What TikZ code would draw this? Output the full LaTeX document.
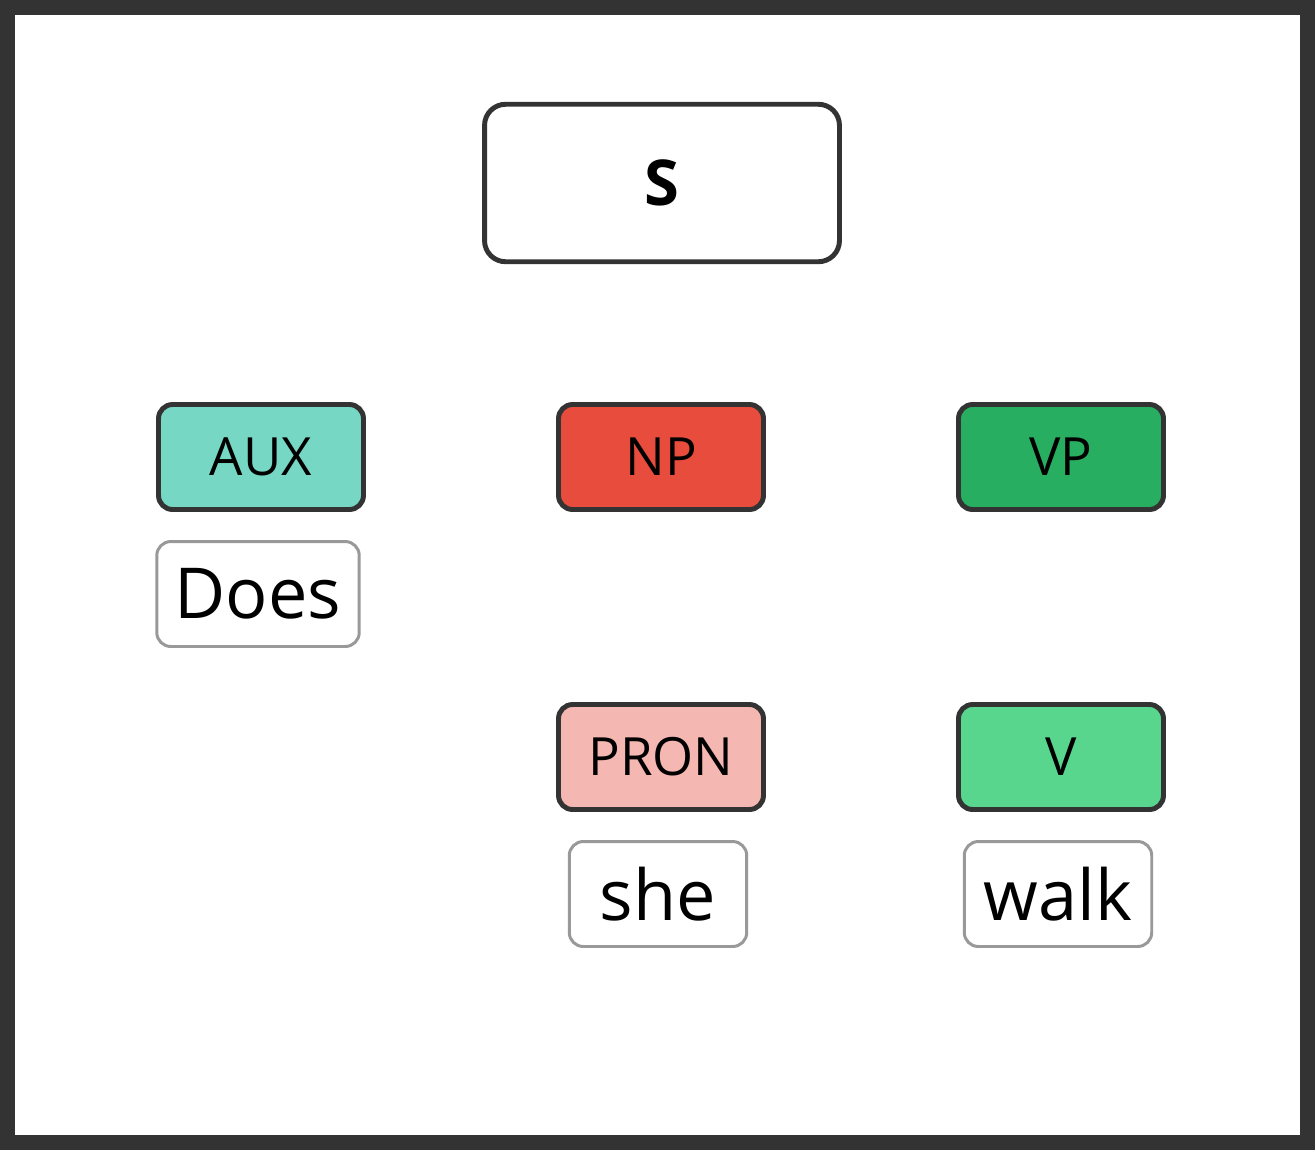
\documentclass[tikz,border=0pt]{standalone}
\usepackage{fontspec}
\setmainfont{Open Sans}
\usetikzlibrary{backgrounds}
\definecolor{frame}{HTML}{333333}
\definecolor{auxc}{HTML}{76D7C4}
\definecolor{npc}{HTML}{E74C3C}
\definecolor{vpc}{HTML}{27AE60}
\definecolor{pronc}{HTML}{F5B7B1}
\definecolor{vc}{HTML}{58D68D}
\definecolor{leafc}{HTML}{999999}
\begin{document}
\begin{tikzpicture}[x=0.02cm, y=-0.02cm,
    cat/.style={draw=frame, line width=2.8pt, rounded corners=8pt,
        minimum width=4.1cm, minimum height=2.1cm, inner sep=0pt,
        font=\fontsize{30}{32}\selectfont},
    leaf/.style={draw=leafc, line width=1.7pt, rounded corners=8pt, fill=white,
        minimum height=2.1cm, inner sep=0pt,
        font=\fontsize{40}{42}\selectfont},
    edge/.style={draw=frame, line width=5pt}]
    % frame
    \fill[frame] (0,0) rectangle (1315,1150);
    \fill[white] (15,15) rectangle (1300,1135);

    % categories
    \node[cat, fill=white, minimum width=7.1cm, minimum height=3.15cm, rounded corners=12pt,
        font=\fontsize{36}{38}\selectfont\bfseries] (s) at (662,183) {S};
    \node[cat, fill=auxc] (aux) at (261,457) {AUX};
    \node[cat, fill=npc] (np) at (661,457) {NP};
    \node[cat, fill=vpc] (vp) at (1061,457) {VP};
    \node[cat, fill=pronc] (pron) at (661,757) {PRON};
    \node[cat, fill=vc] (v) at (1061,757) {V};

    % words
    \node[leaf, minimum width=4.05cm] (does) at (258,594) {Does};
    \node[leaf, minimum width=3.55cm] (she) at (658,894) {she};
    \node[leaf, minimum width=3.75cm] (walk) at (1058,894) {walk};

    % branches
    \begin{scope}[on background layer]
        \draw[edge] (s) -- (aux);
        \draw[edge] (s.center) -- (np.center);
        \draw[edge] (s) -- (vp);
        \draw[edge] (aux.center) -- (does.center);
        \draw[edge] (np.center) -- (pron.center);
        \draw[edge] (vp.center) -- (v.center);
        \draw[edge] (pron.center) -- (she.center);
        \draw[edge] (v.center) -- (walk.center);
    \end{scope}
\end{tikzpicture}
\end{document}
